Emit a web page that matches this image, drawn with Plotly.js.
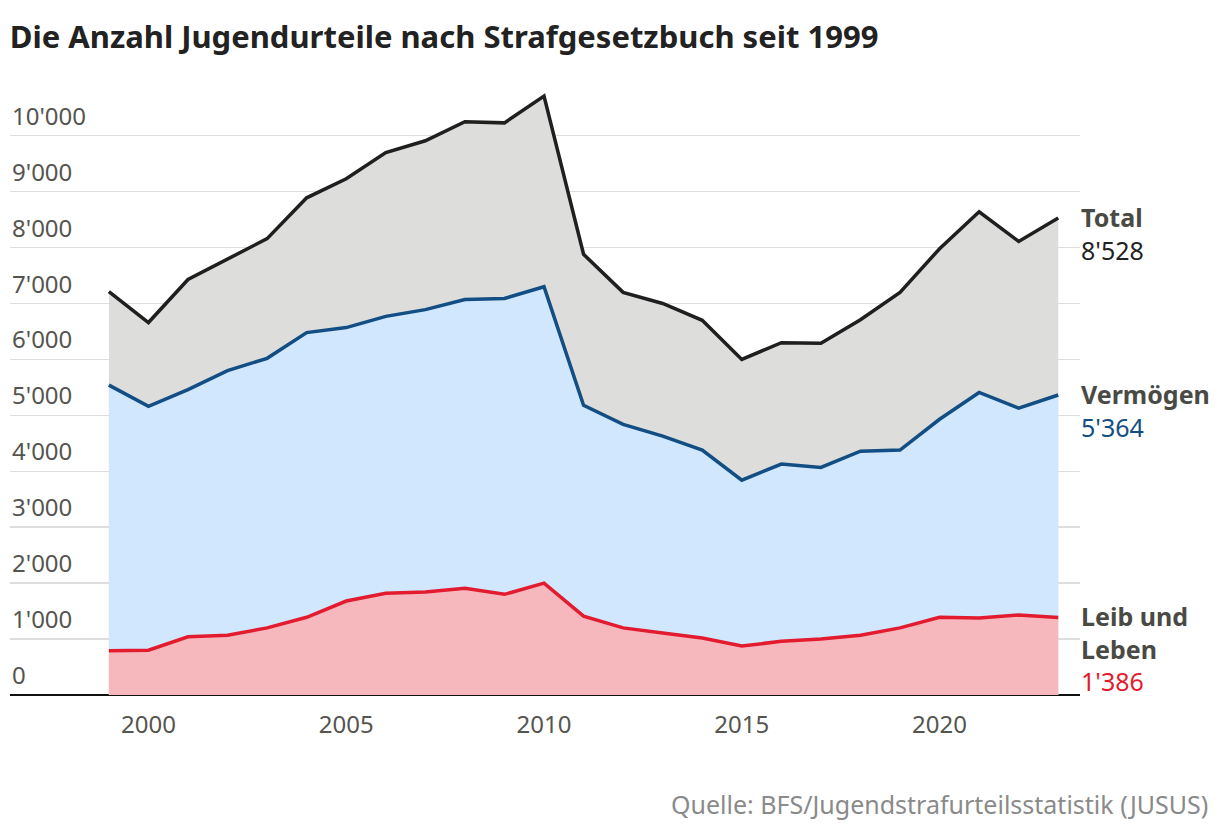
<!DOCTYPE html>
<html><head><meta charset="utf-8">
<script src="https://cdn.plot.ly/plotly-3.0.1.min.js"></script>
<style>body{margin:0;background:#fff}#c{width:1220px;height:832px}</style>
</head><body><div id="c"></div>
<script>
const years = [1999,2000,2001,2002,2003,2004,2005,2006,2007,2008,2009,2010,2011,2012,2013,2014,2015,2016,2017,2018,2019,2020,2021,2022,2023];
const total = [7214,6660,7430,7800,8160,8890,9230,9700,9910,10250,10230,10710,7880,7200,7000,6700,6000,6300,6290,6710,7200,7980,8640,8110,8528];
const vermoegen = [5540,5160,5460,5800,6020,6480,6570,6770,6890,7070,7090,7300,5180,4840,4630,4380,3840,4130,4070,4360,4380,4930,5410,5130,5364];
const leib = [790,800,1040,1070,1200,1390,1680,1820,1840,1910,1800,2000,1410,1200,1110,1020,875,960,1000,1070,1200,1390,1375,1430,1386];
const yTicks = [0,1000,2000,3000,4000,5000,6000,7000,8000,9000,10000];
const yTickLabels = ["0","1'000","2'000","3'000","4'000","5'000","6'000","7'000","8'000","9'000","10'000"];
const xTicks = [2000,2005,2010,2015,2020];
const seriesNames = ["Total","Vermögen","Leib und<br>Leben"];
const lastLabels = ["8'528","5'364","1'386"];

const FONT = "Noto Sans, sans-serif";
const lineColors = ["#1f1f1f","#124e84","#e31b2f"];
const fillColors = ["#dddddb","#d0e7fd","#f6b8bd"];
const valueColors = ["#222222","#124e84","#e31b2f"];
const series = [total, vermoegen, leib];
const data = series.map((ys,i)=>({
  x: years, y: ys, type:'scatter', mode:'lines', fill:'tozeroy',
  fillcolor: fillColors[i], line:{color:lineColors[i], width:3.5}, hoverinfo:'skip'
}));

const annotations = [];
yTicks.forEach((v,i)=>annotations.push({xref:'paper', yref:'y', x:0, y:v, xanchor:'left', yanchor:'bottom', yshift:2, showarrow:false, text:yTickLabels[i], font:{family:FONT, size:24, color:'#555550'}}));
series.forEach((ys,i)=>annotations.push({xref:'paper', yref:'y', x:1, xshift:-1, y:ys[ys.length-1], xanchor:'left', yanchor:'top', yshift:20, showarrow:false, align:'left',
  text:'<b>'+seriesNames[i]+'</b><br><span style="color:'+valueColors[i]+'">'+lastLabels[i]+'</span>', font:{family:FONT, size:25, color:'#4a4a45'}}));
annotations.push({xref:'paper', yref:'paper', x:1, xshift:130, y:0, yshift:-90, xanchor:'right', yanchor:'top', showarrow:false, text:'Quelle: BFS/Jugendstrafurteilsstatistik (JUSUS)', font:{family:FONT, size:25, color:'#8a8a8a'}});

const layout = {
  width:1220, height:832, paper_bgcolor:'#fff', plot_bgcolor:'#fff',
  margin:{l:10, r:140, t:85, b:137},
  showlegend:false,
  title:{text:'<b>Die Anzahl Jugendurteile nach Strafgesetzbuch seit 1999</b>', x:0.008, xanchor:'left', y:0.955, yanchor:'middle', font:{family:FONT, size:31, color:'#222'}},
  xaxis:{range:[1996.5,2023.55], tickvals:xTicks, ticktext:xTicks.map(String), showgrid:false, zeroline:false, showline:false, ticks:'', tickfont:{family:FONT, size:24, color:'#555550'}, ticklabelstandoff:13},
  yaxis:{range:[0,10907], tickvals:yTicks, showticklabels:false, showgrid:true, gridcolor:'#dedede', gridwidth:1.5, zeroline:true, zerolinecolor:'#111', zerolinewidth:2.5, showline:false},
  annotations: annotations
};
Plotly.newPlot('c', data, layout, {displayModeBar:false, staticPlot:true});
</script></body></html>
